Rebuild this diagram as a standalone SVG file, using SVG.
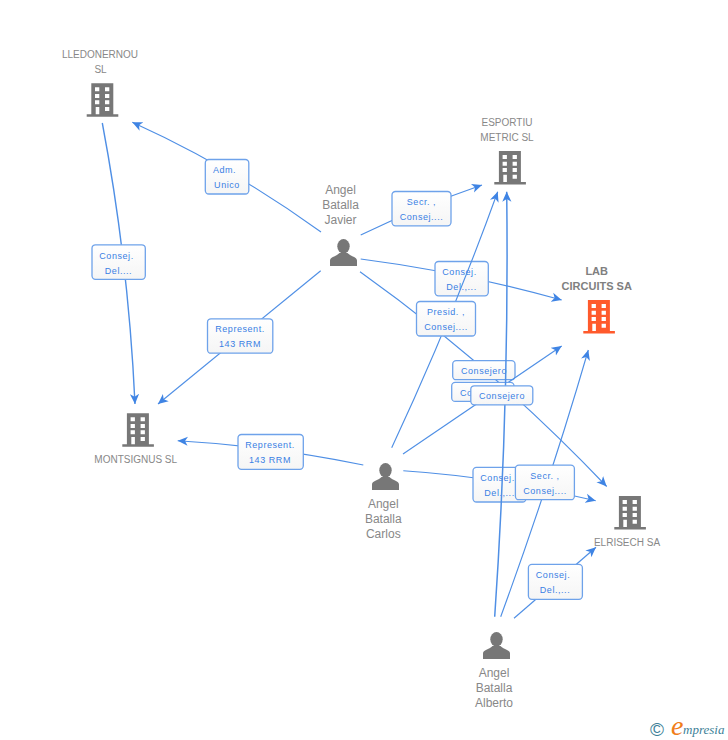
<svg xmlns="http://www.w3.org/2000/svg" width="728" height="740" viewBox="0 0 728 740">
<style>
text{font-family:"Liberation Sans",Arial,sans-serif}
.n{font-size:10px;fill:#888;text-anchor:middle}
.p{font-size:12px;fill:#888;text-anchor:middle}
.b{font-size:11px;font-weight:bold;fill:#808080;text-anchor:middle}
.e{fill:none;stroke:#4f8fe5;stroke-width:1.15;marker-end:url(#a)}
.r{fill:url(#g);stroke:#6ea2ea;stroke-width:1.3}
.l{font-size:9px;letter-spacing:.55px;fill:#3a80e4;text-anchor:middle}
</style>
<defs>
<linearGradient id="g" x1="0" y1="0" x2="0" y2="1"><stop offset="0" stop-color="#fff"/><stop offset="1" stop-color="#f5f5f5"/></linearGradient>
<marker id="a" markerUnits="userSpaceOnUse" markerWidth="11" markerHeight="11" refX="11" refY="6" orient="auto" viewBox="0 0 12 12"><path d="M0,1 L11,6 L0,11 L3,6Z" fill="#3f84e4"/></marker>
<g id="bw"><path d="M4.600,0H26.600V31H31.600V33.400H0V31H4.600Z M8.300,4V8H12.600V4Z M18.300,4V8H22.600V4Z M8.300,10.700V14.700H12.600V10.700Z M18.300,10.700V14.700H22.600V10.700Z M8.300,17V21H12.600V17Z M18.300,17V21H22.600V17Z M9,23.700V31H12.600V23.700Z M18.300,23.700V27.700H22.600V23.700Z" fill-rule="evenodd"/></g>
<g id="pr"><ellipse cx="13.500" cy="7.300" rx="6.200" ry="7.300"/><path d="M0,27V21.500C0,18 6,17.500 9.500,14H17.500C21,17.500 27,18 27,21.500V27Z"/></g>
</defs>
<rect width="728" height="740" fill="#fff"/>
<g id="connectors">
<g><path class="e" d="M321,232Q231,167 132.300,122.300"/><rect class="r" x="205.300" y="159.500" width="43.500" height="34.500" rx="3.500"/><text class="l" x="224.500" y="173">Adm.</text><text class="l" x="227" y="188">Unico</text></g>
<g><path class="e" d="M360.700,235Q421,206 482,185"/><rect class="r" x="392" y="191.500" width="59" height="34.300" rx="3.500"/><text class="l" x="421.500" y="205">Secr. ,</text><text class="l" x="421.500" y="220">Consej....</text></g>
<g><path class="e" d="M360.700,259Q461.400,272 561.700,300"/><rect class="r" x="435" y="261.500" width="53.300" height="34.300" rx="3.500"/><text class="l" x="459.500" y="275">Consej.</text><text class="l" x="461.500" y="290">Del.,...</text></g>
<g><path class="e" d="M360,271.700Q491,365 606.700,486.500"/><rect class="r" x="452.700" y="360.700" width="62.300" height="19" rx="3.500"/><text class="l" x="484" y="374">Consejero</text></g>
<g><path class="e" style="stroke-width:1.4" d="M102.300,123Q128.500,262 135,404"/><rect class="r" x="92" y="244.800" width="53.300" height="34.500" rx="3.500"/><text class="l" x="116.500" y="258.500">Consej.</text><text class="l" x="118.500" y="273.500">Del....</text></g>
<g><path class="e" d="M320.700,270.700L158,404"/><rect class="r" x="207.500" y="318.800" width="65.300" height="34.400" rx="3.500"/><text class="l" x="240" y="332">Represent.</text><text class="l" x="240" y="347">143 RRM</text></g>
<g><path class="e" d="M363.300,465Q271,446 177.700,440.700"/><rect class="r" x="238" y="434.500" width="65.300" height="34.800" rx="3.500"/><text class="l" x="270" y="448">Represent.</text><text class="l" x="270" y="463">143 RRM</text></g>
<g><path class="e" d="M403.300,470.700Q499,477 595.700,500.700"/><rect class="r" x="473" y="467.400" width="53" height="34.600" rx="3.500"/><text class="l" x="497.500" y="481">Consej.</text><text class="l" x="499.500" y="496">Del.,...</text></g>
<g><path class="e" d="M403,454L561.700,346"/><rect class="r" x="451.700" y="382.400" width="62.300" height="19" rx="3.500"/><text class="l" x="483" y="395.500">Consejero</text></g>
<g><path class="e" d="M391.700,447.700Q451,321 497.700,191.700"/><rect class="r" x="416.500" y="301.500" width="59" height="34.500" rx="3.500"/><text class="l" x="446" y="315">Presid. ,</text><text class="l" x="446" y="330">Consej....</text></g>
<g><path class="e" style="stroke-width:1.5" d="M494.700,616.700Q509.300,404 506.700,191.700"/><rect class="r" x="470.800" y="385.800" width="62" height="19" rx="3.500"/><text class="l" x="502" y="399">Consejero</text></g>
<g><path class="e" d="M500.700,616.700Q550,482 588.300,350"/><rect class="r" x="515.400" y="465.200" width="59" height="34.500" rx="3.500"/><text class="l" x="545" y="478.500">Secr. ,</text><text class="l" x="545" y="493.500">Consej....</text></g>
<g><path class="e" d="M514,618.300L596,547.300"/><rect class="r" x="528.400" y="564.400" width="54" height="34.900" rx="3.500"/><text class="l" x="553" y="578">Consej.</text><text class="l" x="555" y="593">Del.,...</text></g>
</g>
<g id="lledonernou" fill="#777"><use href="#bw" x="86.700" y="83.300"/><text class="n" x="100" y="57.500">LLEDONERNOU</text><text class="n" x="100.500" y="72.500">SL</text></g>
<g id="esportiu" fill="#777"><use href="#bw" x="494.300" y="151"/><text class="n" x="507" y="126">ESPORTIU</text><text class="n" x="507" y="141">METRIC SL</text></g>
<g id="lab-circuits" fill="#ff5a2c"><use href="#bw" x="583.300" y="300"/><text class="b" x="596.700" y="275">LAB</text><text class="b" x="596.700" y="289.500">CIRCUITS SA</text></g>
<g id="montsignus" fill="#777"><use href="#bw" x="122.300" y="413.300"/><text class="n" x="135.700" y="463">MONTSIGNUS SL</text></g>
<g id="elrisech" fill="#777"><use href="#bw" x="614.300" y="496"/><text class="n" x="627" y="546">ELRISECH SA</text></g>
<g id="javier" fill="#777"><use href="#pr" x="330" y="239"/><text class="p" x="340.500" y="194">Angel</text><text class="p" x="340.500" y="209">Batalla</text><text class="p" x="340.500" y="223.500">Javier</text></g>
<g id="carlos" fill="#777"><use href="#pr" x="372" y="463"/><text class="p" x="383.300" y="508">Angel</text><text class="p" x="383.300" y="523">Batalla</text><text class="p" x="383.300" y="538">Carlos</text></g>
<g id="alberto" fill="#777"><use href="#pr" x="483" y="632"/><text class="p" x="494" y="677">Angel</text><text class="p" x="494" y="692">Batalla</text><text class="p" x="494" y="707">Alberto</text></g>
<g id="logo"><text x="650" y="735.500" font-size="19" style="fill:#3d7f98">©</text><text x="671" y="735" font-size="28" font-style="italic" style="font-family:'Liberation Serif',serif;fill:#f07d1a">e</text><text x="683" y="733.500" font-size="13" font-style="italic" style="font-family:'Liberation Serif',serif;fill:#3d7f98">mpresia</text></g>
</svg>
